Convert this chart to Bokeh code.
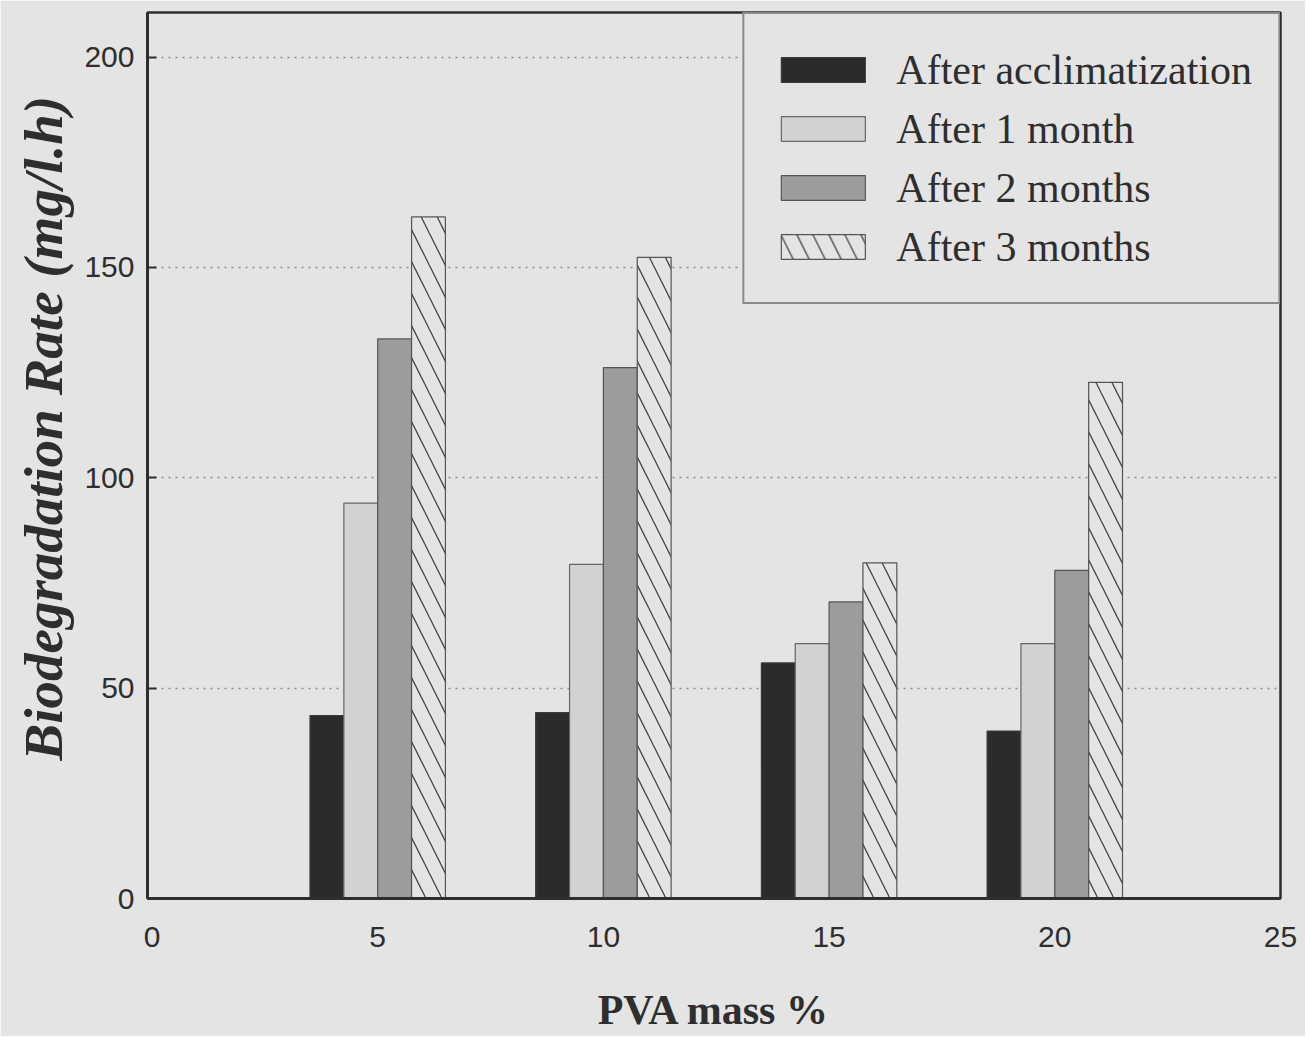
from bokeh.plotting import figure
from bokeh.models import Range1d, FixedTicker, Title
from bokeh.embed import file_html
from bokeh.resources import INLINE

# ---- data ----
pva_mass = [5, 10, 15, 20]
after_acclimatization = [43.5, 44.2, 56.0, 39.8]
after_1_month = [94.0, 79.4, 60.6, 60.6]
after_2_months = [133.0, 126.2, 70.5, 78.0]
after_3_months = [162.0, 152.4, 79.8, 122.7]
series_labels = ["After acclimatization", "After 1 month", "After 2 months", "After 3 months"]
x_ticks = [0, 5, 10, 15, 20, 25]
y_ticks = [0, 50, 100, 150, 200]

BG = "#e4e4e4"
INK = "#2e2e2e"

p = figure(width=1305, height=1036, output_backend="svg", toolbar_location=None,
           x_range=Range1d(-0.1, 25), y_range=Range1d(0, 210.6),
           min_border_left=147, min_border_right=25, min_border_top=12, min_border_bottom=138)
p.background_fill_color = BG
p.border_fill_color = BG
p.outline_line_color = INK
p.outline_line_width = 2.5

bw = 0.75
series = [after_acclimatization, after_1_month, after_2_months, after_3_months]
styles = [
    dict(fill_color="#2b2b2b", line_color="#3a3a3a"),
    dict(fill_color="#d2d2d2", line_color="#666666"),
    dict(fill_color="#9c9c9c", line_color="#555555"),
    dict(fill_color=BG, line_color="#555555", hatch_pattern="\\", hatch_color="#444444",
         hatch_scale=32, hatch_weight=1.3),
]
for i, (vals, lab, st) in enumerate(zip(series, series_labels, styles)):
    off = (i - 1.5) * bw
    p.vbar(x=[v + off for v in pva_mass], top=vals, bottom=0, width=bw,
           line_width=1.2, legend_label=lab, **st)

# axes
p.xaxis.ticker = FixedTicker(ticks=x_ticks)
p.yaxis.ticker = FixedTicker(ticks=y_ticks)
for ax in (p.xaxis, p.yaxis):
    ax.axis_line_color = INK
    ax.axis_line_width = 3
    ax.major_label_text_font = "Liberation Sans"
    ax.major_label_text_font_size = "30px"
    ax.major_label_text_color = INK
    ax.minor_tick_line_color = None
p.xaxis.major_tick_line_color = None
p.xaxis.major_label_standoff = 22
p.yaxis.major_tick_in = 9
p.yaxis.major_tick_out = 0
p.yaxis.major_tick_line_color = INK
p.yaxis.major_tick_line_width = 2
p.yaxis.major_label_standoff = 13

p.xaxis.axis_label = "PVA mass %"
p.xaxis.axis_label_text_font = "Liberation Serif"
p.xaxis.axis_label_text_font_style = "bold"
p.xaxis.axis_label_text_font_size = "42px"
p.xaxis.axis_label_text_color = INK
p.xaxis.axis_label_standoff = 37

# y title as a left-side Title so it can be offset along the axis like the reference
ytitle = Title(text="Biodegradation Rate (mg/l.h)", align="left", offset=138,
               text_font="Liberation Serif", text_font_style="bold italic",
               text_font_size="55px", text_color=INK, standoff=16)
p.add_layout(ytitle, "left")

# grid
p.xgrid.visible = False
p.ygrid.ticker = FixedTicker(ticks=y_ticks)
p.ygrid.grid_line_color = "#8c8c8c"
p.ygrid.grid_line_dash = "2 5"
p.ygrid.grid_line_width = 1.3

# legend
lg = p.legend[0]
lg.location = "top_right"
lg.margin = 0
lg.padding = 26
lg.spacing = 0
lg.glyph_width = 105
lg.glyph_height = 31
lg.label_height = 59
lg.label_standoff = 21
lg.label_text_font = "Liberation Serif"
lg.label_text_font_size = "42px"
lg.label_text_color = INK
lg.background_fill_color = BG
lg.background_fill_alpha = 1
lg.border_line_color = INK
lg.border_line_width = 2

open("out.html", "w").write(file_html(p, INLINE))
